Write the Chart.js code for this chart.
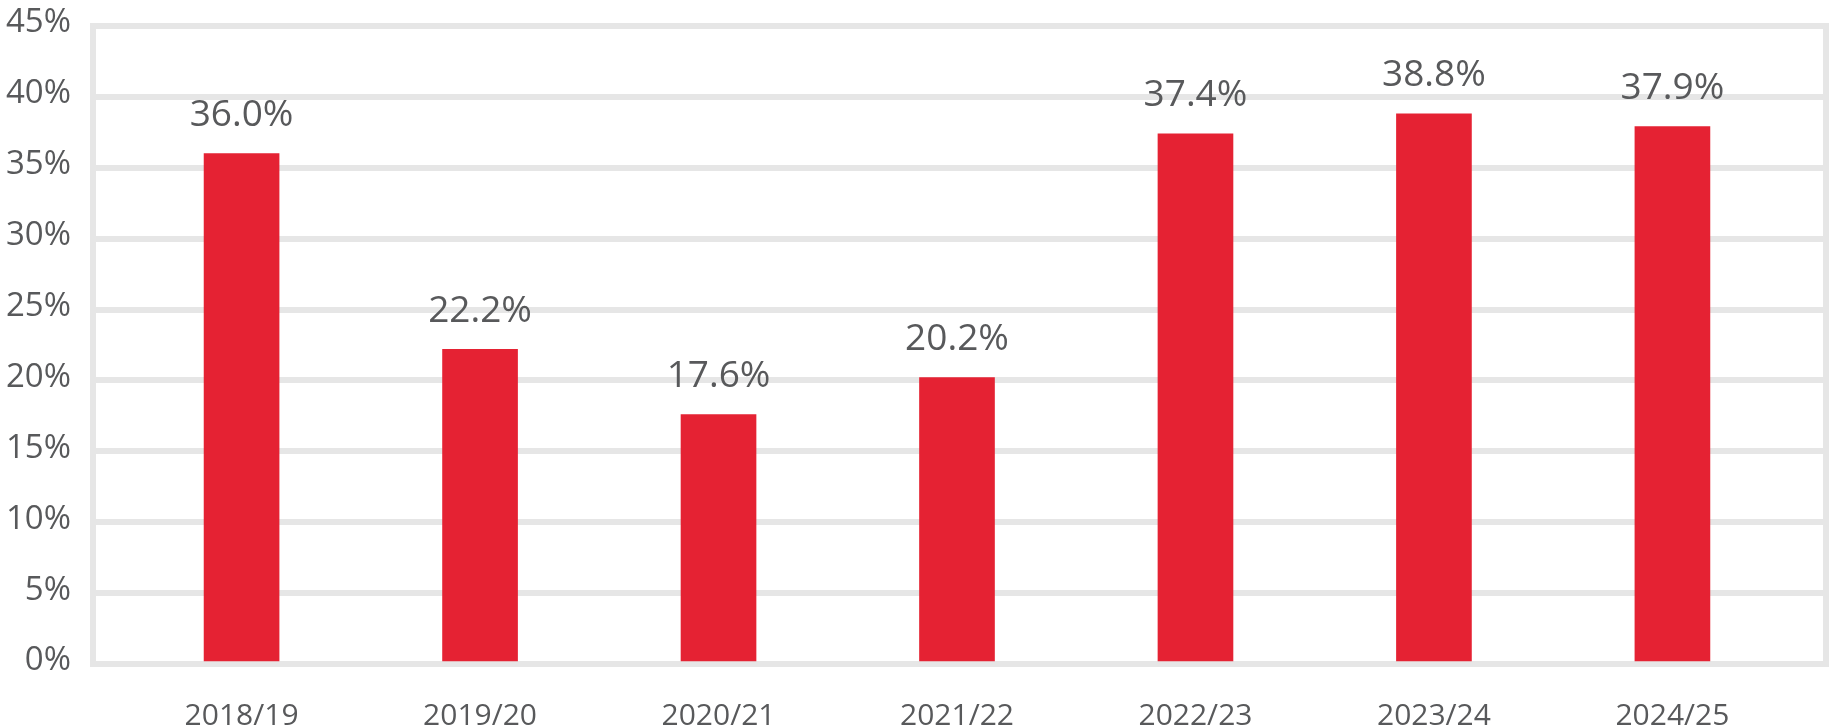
<!DOCTYPE html>
<html>
<head>
<meta charset="utf-8">
<script src="https://cdn.jsdelivr.net/npm/chart.js@4.4.1/dist/chart.umd.min.js"></script>
<style>
  html, body { margin: 0; padding: 0; background: #ffffff; }
  #wrap { width: 1834px; height: 728px; position: relative; }
</style>
</head>
<body>
<div id="wrap"><canvas id="bars"></canvas></div>
<script>
const categories = ["2018/19", "2019/20", "2020/21", "2021/22", "2022/23", "2023/24", "2024/25"];
const shares = [36.0, 22.2, 17.6, 20.2, 37.4, 38.8, 37.9];
const yTicks = [0, 5, 10, 15, 20, 25, 30, 35, 40, 45];

const textColor = "#58595b";
const gridColor = "#e6e6e6";
const barColor = "#e52233";
const fontFamily = "'Open Sans', 'Noto Sans', sans-serif";

// grey frame round the plot area
const framePlugin = {
  id: "frame",
  beforeDatasetsDraw(chart) {
    const a = chart.chartArea;
    const ctx = chart.ctx;
    ctx.save();
    ctx.strokeStyle = gridColor;
    ctx.lineWidth = 6;
    ctx.strokeRect(a.left, a.top, a.right - a.left, a.bottom - a.top);
    ctx.restore();
  },
};

// value labels above the bars
const valueLabels = {
  id: "valueLabels",
  afterDatasetsDraw(chart) {
    const ctx = chart.ctx;
    const meta = chart.getDatasetMeta(0);
    ctx.save();
    ctx.fillStyle = textColor;
    ctx.font = "37px " + fontFamily;
    ctx.textAlign = "center";
    ctx.textBaseline = "middle";
    meta.data.forEach((bar, i) => {
      ctx.fillText(shares[i].toFixed(1) + "%", bar.x, bar.y - 38);
    });
    ctx.restore();
  },
};

new Chart(document.getElementById("bars").getContext("2d"), {
  type: "bar",
  data: {
    datasets: [
      {
        data: shares.map((v, i) => ({ x: i, y: v })),
        backgroundColor: barColor,
        borderWidth: 0,
        barThickness: 75,
      },
    ],
  },
  options: {
    responsive: true,
    maintainAspectRatio: false,
    animation: false,
    layout: { padding: { top: 26, right: 8, left: 0, bottom: 0 } },
    plugins: { legend: { display: false }, tooltip: { enabled: false } },
    scales: {
      x: {
        type: "linear",
        offset: false,
        min: -0.623,
        max: 6.644,
        grid: { display: false },
        border: { display: false },
        afterBuildTicks(scale) {
          scale.ticks = categories.map((c, i) => ({ value: i }));
        },
        afterFit(scale) {
          scale.height = 64;
          scale.paddingLeft = 0;
          scale.paddingRight = 0;
        },
        ticks: {
          color: textColor,
          font: { family: fontFamily, size: 30 },
          padding: 26,
          maxRotation: 0,
          autoSkip: false,
          callback: (v) => categories[v],
        },
      },
      y: {
        min: 0,
        max: 45,
        afterBuildTicks(scale) {
          scale.ticks = yTicks.map((v) => ({ value: v }));
        },
        afterFit(scale) {
          scale.width = 93;
          scale.paddingTop = 0;
          scale.paddingBottom = 0;
        },
        grid: { color: gridColor, lineWidth: 6, drawTicks: false },
        border: { display: false },
        ticks: {
          color: textColor,
          font: { family: fontFamily, size: 33 },
          padding: 22,
          labelOffset: -3,
          callback: (v) => v + "%",
        },
      },
    },
  },
  plugins: [framePlugin, valueLabels],
});
</script>
</body>
</html>
